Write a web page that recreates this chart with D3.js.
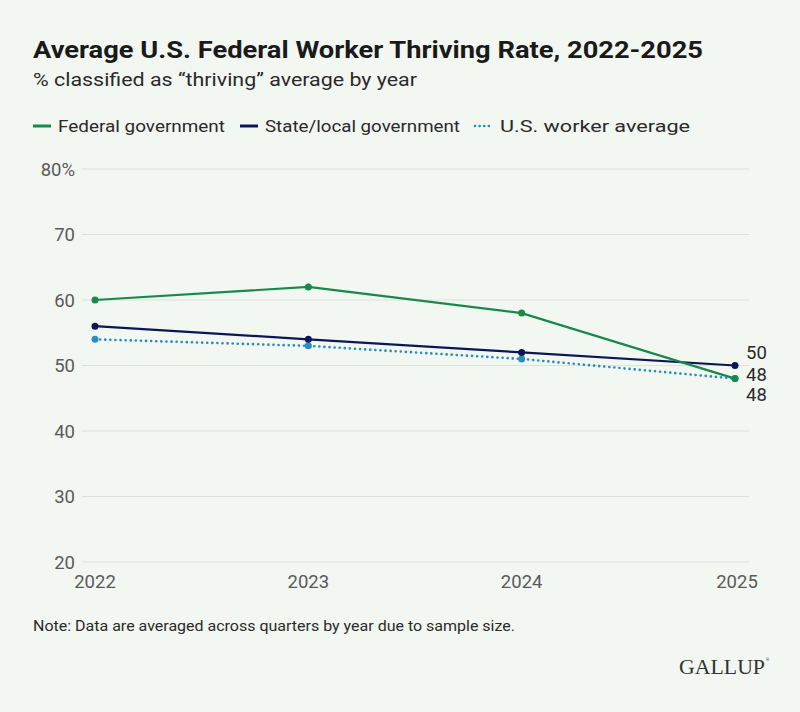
<!DOCTYPE html>
<html><head><meta charset="utf-8">
<script src="https://cdn.jsdelivr.net/npm/d3@7"></script>
<style>
html,body{margin:0;padding:0;background:#f2f7f1;}
svg{display:block;}
</style></head>
<body>
<script>
const years = [2022, 2023, 2024, 2025];
const federal = [60, 62, 58, 48];
const stateLocal = [56, 54, 52, 50];
const usAverage = [54, 53, 51, 48];
const yTicks = [20, 30, 40, 50, 60, 70, 80];
const seriesNames = ["Federal government", "State/local government", "U.S. worker average"];

const W = 800, H = 712;
const SANS = "Roboto,'Noto Sans',sans-serif";
const svg = d3.select("body").append("svg").attr("width", W).attr("height", H)
  .style("font-family", SANS);
svg.append("rect").attr("width", W).attr("height", H).attr("fill", "#f2f7f1");

const x = d3.scalePoint().domain(years).range([95, 735]);
const y = d3.scaleLinear().domain([20, 80]).range([562, 169]);

// Title
svg.append("text").attr("x", 33).attr("y", 58).attr("font-size", 24).attr("font-weight", 700)
  .attr("fill", "#1a1a1a").attr("textLength", 670).attr("lengthAdjust", "spacingAndGlyphs")
  .text("Average U.S. Federal Worker Thriving Rate, 2022-2025");
svg.append("text").attr("x", 33).attr("y", 86).attr("font-size", 18).attr("fill", "#2a2a2a")
  .attr("textLength", 384).attr("lengthAdjust", "spacingAndGlyphs")
  .text("% classified as \u201cthriving\u201d average by year");

// Legend
const series = [
  {name: seriesNames[0], values: federal, color: "#18894a", dash: null, width: 2.2},
  {name: seriesNames[1], values: stateLocal, color: "#0c1657", dash: null, width: 2.2},
  {name: seriesNames[2], values: usAverage, color: "#2b8cc4", dash: "0.1,5", width: 2.6}
];
const legendX = [33, 240, 475];
const legendLen = [167, 195, 190];
series.forEach((s, i) => {
  const g = svg.append("g").attr("transform", `translate(${legendX[i]},126)`);
  g.append("line").attr("x1", 0).attr("x2", 18).attr("y1", 0).attr("y2", 0)
    .attr("stroke", s.color).attr("stroke-width", s.dash ? 2.6 : 3)
    .attr("stroke-dasharray", s.dash ? "0.1,4.5" : null).attr("stroke-linecap", s.dash ? "round" : "butt");
  g.append("text").attr("x", 25).attr("y", 6).attr("font-size", 16.5).attr("fill", "#2a2a2a")
    .attr("textLength", legendLen[i]).attr("lengthAdjust", "spacingAndGlyphs").text(s.name);
});

// Gridlines and y labels
const yAxis = svg.append("g");
yTicks.forEach(t => {
  yAxis.append("line").attr("x1", 82).attr("x2", 749).attr("y1", y(t)).attr("y2", y(t))
    .attr("stroke", "#dde1dc").attr("stroke-width", 1);
  yAxis.append("text").attr("x", 75).attr("y", y(t)).attr("dy", "0.36em").attr("text-anchor", "end")
    .attr("font-size", 18.5).attr("fill", "#5a5a5a").text(t === 80 ? t + "%" : t);
});

// x labels
const xAxis = svg.append("g");
years.forEach((yr, i) => {
  xAxis.append("text").attr("x", x(yr) + (i === years.length - 1 ? 2 : 0)).attr("y", 588)
    .attr("text-anchor", "middle").attr("font-size", 18.5).attr("fill", "#5a5a5a").text(yr);
});

// Lines (draw US first, then state, then federal on top)
const line = d3.line().x((d, i) => x(years[i])).y(d => y(d));
[series[2], series[1], series[0]].forEach(s => {
  svg.append("path").datum(s.values).attr("d", line).attr("fill", "none")
    .attr("stroke", s.color).attr("stroke-width", s.width)
    .attr("stroke-dasharray", s.dash).attr("stroke-linecap", s.dash ? "round" : "butt");
  svg.selectAll(null).data(s.values).enter().append("circle")
    .attr("cx", (d, i) => x(years[i])).attr("cy", d => y(d)).attr("r", 3.5).attr("fill", s.color);
});

// End labels
svg.append("text").attr("x", 746).attr("y", 352).attr("dy", "0.36em").attr("font-size", 18.5).attr("fill", "#2a2a2a").text(stateLocal[3]);
svg.append("text").attr("x", 746).attr("y", 374).attr("dy", "0.36em").attr("font-size", 18.5).attr("fill", "#2a2a2a").text(federal[3]);
svg.append("text").attr("x", 746).attr("y", 394).attr("dy", "0.36em").attr("font-size", 18.5).attr("fill", "#2a2a2a").text(usAverage[3]);

// Note
svg.append("text").attr("x", 33).attr("y", 631).attr("font-size", 14).attr("fill", "#2a2a2a")
  .attr("textLength", 482).attr("lengthAdjust", "spacingAndGlyphs")
  .text("Note: Data are averaged across quarters by year due to sample size.");

// Logo
svg.append("text").attr("x", 765).attr("y", 674).attr("text-anchor", "end")
  .style("font-family", "'Liberation Serif','DejaVu Serif',serif").attr("font-size", 20).attr("fill", "#333")
  .attr("textLength", 86).attr("lengthAdjust", "spacingAndGlyphs").text("GALLUP");
svg.append("text").attr("x", 766).attr("y", 661).attr("font-size", 4).attr("fill", "#333").text("\u00ae");
</script>
</body></html>
